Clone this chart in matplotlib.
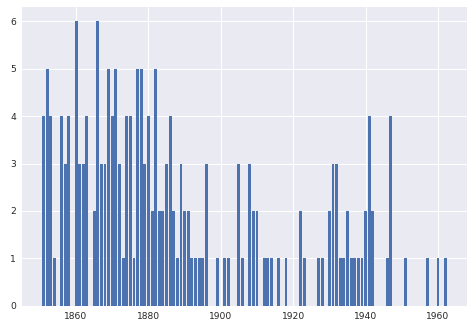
import matplotlib
matplotlib.use('Agg')
import matplotlib.pyplot as plt

years = [1851, 1852, 1853, 1854, 1856, 1857, 1858, 1860, 1861, 1862, 1863,
         1865, 1866, 1867, 1868, 1869, 1870, 1871, 1872, 1873, 1874, 1875,
         1876, 1877, 1878, 1879, 1880, 1881, 1882, 1883, 1884, 1885, 1886,
         1887, 1888, 1889, 1890, 1891, 1892, 1893, 1894, 1895, 1896, 1899,
         1901, 1902, 1905, 1906, 1908, 1909, 1910, 1912, 1913, 1914, 1916,
         1918, 1922, 1923, 1927, 1928, 1930, 1931, 1932, 1933, 1934, 1935,
         1936, 1937, 1938, 1939, 1940, 1941, 1942, 1946, 1947, 1951, 1957,
         1960, 1962]
counts = [4, 5, 4, 1, 4, 3, 4, 6, 3, 3, 4,
          2, 6, 3, 3, 5, 4, 5, 3, 1, 4, 4,
          1, 5, 5, 3, 4, 2, 5, 2, 2, 3, 4,
          2, 1, 3, 2, 2, 1, 1, 1, 1, 3, 1,
          1, 1, 3, 1, 3, 2, 2, 1, 1, 1, 1,
          1, 2, 1, 1, 1, 2, 3, 3, 1, 1, 2,
          1, 1, 1, 1, 2, 4, 2, 1, 4, 1, 1,
          1, 1]

plt.style.use('seaborn-v0_8')
plt.rcParams['font.family'] = ['DejaVu Sans']
plt.rcParams['xtick.labelsize'] = 11
plt.rcParams['ytick.labelsize'] = 11
plt.rcParams['grid.linewidth'] = 1.2

fig = plt.figure(figsize=(7.9, 5.5), dpi=60)
ax = fig.add_axes([0.046, 0.073, 0.939, 0.906])

ax.bar(years, counts, width=0.8, color='#4C72B0', linewidth=0)

fig.savefig('out.png', dpi=60)
